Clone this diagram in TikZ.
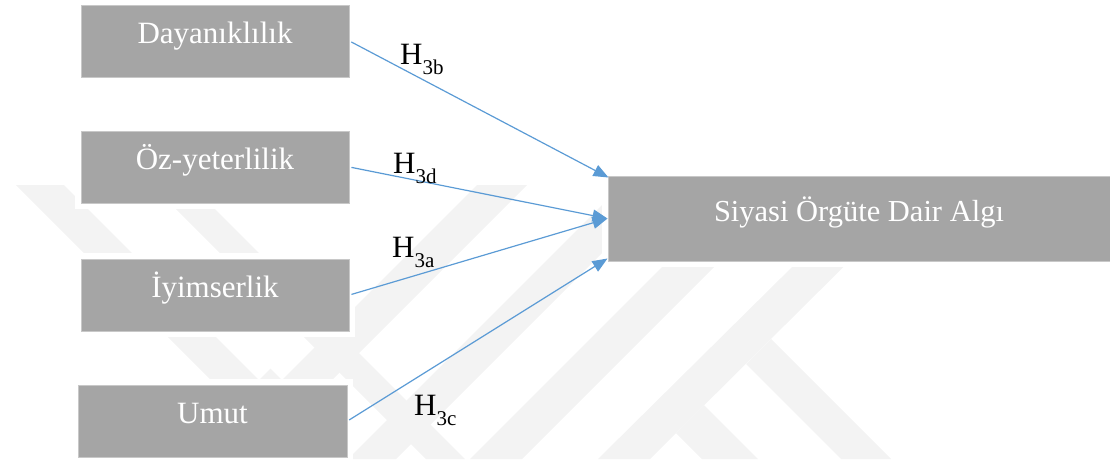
\documentclass[tikz,border=0pt]{standalone}
\usepackage{fontspec}
\setmainfont{Liberation Serif}
\usetikzlibrary{arrows.meta}
\definecolor{boxgray}{RGB}{165,165,165}
\definecolor{boxedge}{RGB}{200,200,200}
\definecolor{arrowblue}{RGB}{91,155,213}
\definecolor{wmgray}{RGB}{243,243,243}
\newcommand\hsubscr[1]{\raisebox{-10pt}{\fontsize{21}{21}\selectfont #1}}
\begin{document}
\begin{tikzpicture}[x=1pt,y=-1pt,
  wm/.style={fill=wmgray,draw=none},
  boxbase/.style={rectangle,fill=boxgray,draw=boxedge,line width=1pt,inner sep=0pt,
    text=white,text height=20pt,text depth=15pt,
    preaction={draw=white,line width=12pt}},
  leftbox/.style={boxbase,minimum width=268pt,minimum height=72pt,font=\fontsize{31}{31}\selectfont},
  bigbox/.style={boxbase,minimum width=502pt,minimum height=85pt,font=\fontsize{30.5}{31}\selectfont},
  conn/.style={draw=arrowblue,line width=1.2pt,shorten <=2pt,-{Triangle[length=15pt,width=12pt]}},
  lab/.style={inner sep=0pt,anchor=base west,font=\fontsize{31}{31}\selectfont}
]
\useasboundingbox (0,0) rectangle (1110,459);
% faint background watermark
\fill[wm] (16,185) -- (64,185) -- (259,380) -- (211,380) -- cycle;
\fill[wm] (477,185) -- (527,185) -- (332,380) -- (282,380) -- cycle;
\fill[wm] (259,380) -- (282,380) -- (270.5,368.5) -- cycle;
\fill[wm] (174,207) -- (213,207) -- (465,459) -- (426,459) -- cycle;
\fill[wm] (622,185) -- (670,185) -- (396,459) -- (348,459) -- cycle;
\fill[wm] (744,185) -- (796,185) -- (522,459) -- (470,459) -- cycle;
\fill[wm] (875,185) -- (926,185) -- (650,459) -- (598,459) -- cycle;
\fill[wm] (771,339) -- (891,459) -- (841,459) -- (746,364) -- cycle;
\fill[wm] (704,405) -- (758,459) -- (702,459) -- (676,433) -- cycle;
% boxes
\node[leftbox] (d) at (215,41) {Dayanıklılık};
\node[leftbox] (o) at (215,167) {Öz-yeterlilik};
\node[leftbox] (i) at (215,295) {İyimserlik};
\node[leftbox,minimum width=269pt] (u) at (212.5,421) {Umut};
\node[bigbox] (s) at (859,218.5) {Siyasi Örgüte Dair Algı\hspace{44pt}};
% connectors
\draw[conn] (d.east) -- ([xshift=1pt,yshift=-2pt]s.north west);
\draw[conn] (o.east) -- (s.west);
\draw[conn] (i.east) -- (s.west);
\draw[conn] (u.east) -- ([yshift=3pt]s.south west);
% labels
\node[lab] (h3b) at (400,64) {H\hsubscr{3b}};
\node[lab] (h3d) at (393,173) {H\hsubscr{3d}};
\node[lab] (h3a) at (392,257) {H\hsubscr{3a}};
\node[lab] (h3c) at (414,415) {H\hsubscr{3c}};
\end{tikzpicture}
\end{document}
